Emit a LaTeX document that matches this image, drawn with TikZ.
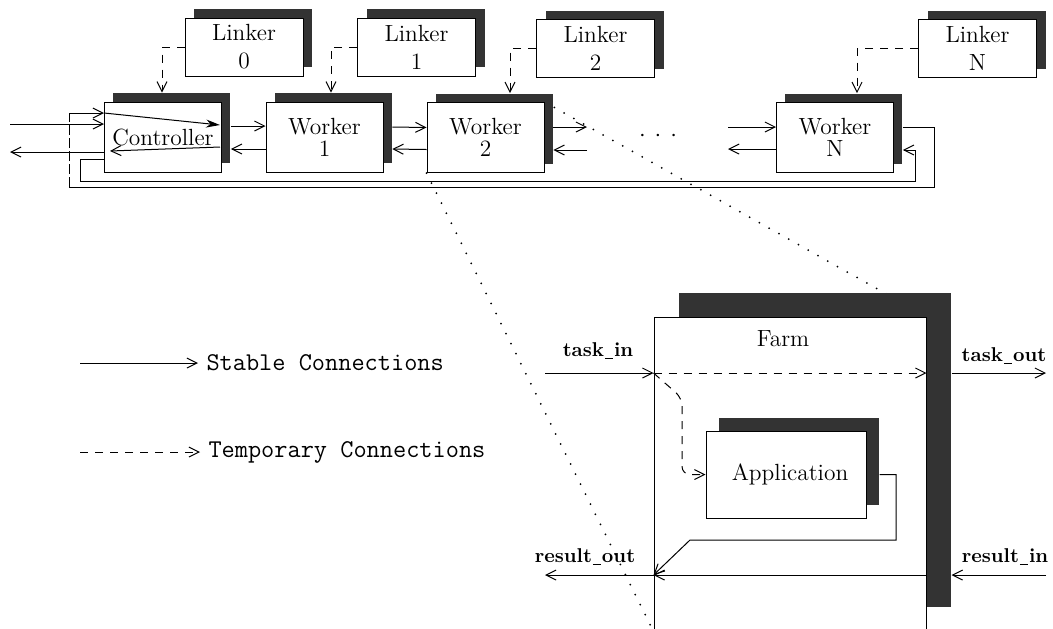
\documentclass[tikz,border=0pt]{standalone}
\usetikzlibrary{arrows.meta,shadows,backgrounds}
\newcommand{\lowbar}{\kern0.4pt\rule[-1pt]{4.2pt}{0.6pt}\kern0.4pt}
\begin{document}
\begin{tikzpicture}[x=0.5pt,y=-0.5pt,line width=0.5pt,
  >={Straight Barb[length=5pt,width=5pt]},
  font=\fontsize{11.7}{12}\selectfont,
  boxshadow/.style={drop shadow={shadow xshift=#1,shadow yshift=#1,fill=black!80,opacity=1}},
  linker/.style={draw,fill=white,minimum width=59pt,minimum height=29pt,
    align=center,inner sep=0pt,boxshadow=4.5pt},
  worker/.style={draw,fill=white,minimum width=58.5pt,minimum height=35pt,
    align=center,inner sep=0pt,boxshadow=4.4pt},
  temp/.style={dash pattern=on 4pt off 3.5pt,->},
  zoomline/.style={line width=1pt,line cap=round,dash pattern=on 0pt off 5.6pt},
  port/.style={font=\fontsize{10}{12}\selectfont\bfseries},
  legend/.style={font=\fontsize{12.8}{14}\selectfont\ttfamily,anchor=west,inner sep=1pt}]
 \useasboundingbox (0,0) rectangle (1053,628);

 % linkers and workers
 \node[linker] (lk0) at (244,47) {Linker\\[2pt]0};
 \node[linker] (lk1) at (416.5,47) {Linker\\[2pt]1};
 \node[linker] (lk2) at (595.5,48.5) {Linker\\[2pt]2};
 \node[linker] (lkN) at (977.5,48.5) {Linker\\[2pt]N};
 \node[worker] (ctrl) at (163,137) {Controller};
 \node[worker] (w1) at (324.5,137) {Worker\\[-1pt]1};
 \node[worker] (w2) at (485.5,137.5) {Worker\\[-1pt]2};
 \node[worker] (wN) at (835,137.5) {Worker\\[-1pt]N};
 \node (dots) at (658,136) {$\cdot$\hspace{4.5pt}$\cdot$\hspace{4.5pt}$\cdot$};

 \draw[temp] (lk0.west) -| ([xshift=-0.5pt,yshift=4.4pt]ctrl.north);
 \draw[temp] (lk1.west) -| ([xshift=3.25pt,yshift=4.4pt]w1.north);
 \draw[temp] (lk2.west) -| ([xshift=12.25pt,yshift=4.4pt]w2.north);
 \draw[temp] (lkN.west) -| ([xshift=11pt,yshift=4.4pt]wN.north);

 % chain of workers
 \draw[->] ([xshift=4.4pt,yshift=5.5pt]ctrl.east) -- ([yshift=5.5pt]w1.west);
 \draw[->] ([yshift=-6pt]w1.west) -- ([xshift=4.4pt,yshift=-6pt]ctrl.east);
 \draw[->] ([xshift=4.4pt,yshift=5pt]w1.east) -- ([yshift=5pt]w2.west);
 \draw[->] ([yshift=-6pt]w2.west) -- ([xshift=4.4pt,yshift=-6pt]w1.east);
 \coordinate (w2outT) at (587,127);
 \coordinate (w2outB) at (587,150);
 \coordinate (wNinT) at (728,127);
 \coordinate (wNinB) at (728,149);
 \draw[->] ([xshift=4.4pt,yshift=5.25pt]w2.east) -- (w2outT);
 \draw[->] (w2outB) -- ([xshift=4.4pt,yshift=-6.25pt]w2.east);
 \draw[->] (wNinT) -- ([yshift=5.25pt]wN.west);
 \draw[->] ([yshift=-5.75pt]wN.west) -- (wNinB);

 % controller in and out
 \coordinate (inL) at (10,124);
 \coordinate (outL) at (10,152);
 \coordinate (ctrlIn) at ([yshift=12pt]ctrl.west);
 \draw[->] (inL) -- ([yshift=6.5pt]ctrl.west);
 \draw[->] ([yshift=-7.5pt]ctrl.west) -- (outL);
 \draw[-{Stealth[length=7pt,width=4pt]}] (ctrlIn) -- ([xshift=-1pt,yshift=6pt]ctrl.east);
 \draw[->] ([xshift=-1pt,yshift=-5pt]ctrl.east) -- ([xshift=3pt,yshift=-7pt]ctrl.west);

 % loop back to the controller
 \coordinate (loopR) at (934,187);
 \coordinate (loopL) at (69,187);
 \draw ([xshift=4.4pt,yshift=5.25pt]wN.east) -| (loopR) -- (loopL);
 \draw[dash pattern=on 5pt off 1.5pt] (loopL) -- (loopL |- ctrlIn);
 \draw[->] (loopL |- ctrlIn) -- (ctrlIn);
 \coordinate (backL) at (80,181);
 \coordinate (backR) at (915,181);
 \draw[->] ([yshift=-11pt]ctrl.west) -| (backL) -- (backR)
   |- ([xshift=4.4pt,yshift=-6.25pt]wN.east);

 % the farm
 \node[draw,fill=white,minimum width=136pt,minimum height=157pt,inner sep=0pt,
   drop shadow={shadow xshift=12.5pt,shadow yshift=12pt,fill=black!80,opacity=1}]
   (farm) at (790,474) {};
 \node (farmlbl) at (783,339) {Farm};
 \node[draw,fill=white,minimum width=80pt,minimum height=43.5pt,inner sep=0pt,
   boxshadow=6.5pt] (app) at (786,474.5) {\hspace{4pt}Application};

 \coordinate (farmSh) at ([xshift=12.5pt]farm.east);
 \coordinate (appSh) at ([xshift=6.5pt]app.east);
 \coordinate (tiIn) at (545,373);
 \coordinate (toOut) at (1046,373);
 \coordinate (riIn) at (1046,575);
 \coordinate (roOut) at (545,575);
 \coordinate (bend) at (682,398);
 \coordinate (appLoop) at (896,540);
 \coordinate (appBack) at (690,540);

 \draw[->] (tiIn) -- (farm.west |- tiIn);
 \draw[temp] (farm.west |- tiIn) -- (farm.east |- tiIn);
 \draw[->] (farmSh |- tiIn) -- (toOut);
 \draw[temp,rounded corners=4pt] (farm.west |- tiIn) -- (bend) |- (app.west);
 \draw[->] (appSh) -| (appLoop) -- (appBack) -- (farm.west |- roOut);
 \draw[->] (riIn) -- (farmSh |- riIn);
 \draw[->] (farm.east |- riIn) -- (farm.west |- riIn);
 \draw[->] (farm.west |- roOut) -- (roOut);

 \node[port] (tilbl) at (598,351) {task\lowbar in};
 \node[port] (tolbl) at (1004,356) {task\lowbar out};
 \node[port] (rolbl) at (585,557) {result\lowbar out};
 \node[port] (rilbl) at (1005,557) {result\lowbar in};

 % zoom lines
 \begin{scope}[on background layer]
  \draw[zoomline] (w2.south west) -- (farm.south west);
  \draw[zoomline] (w2.north east) -- (farm.north east);
 \end{scope}

 % legend
 \node[legend] (stable) at (204,363) {Stable Connections};
 \node[legend] (tempo) at (206,452) {Temporary Connections};
 \coordinate (lgA) at (80,363);
 \coordinate (lgB) at (80,452);
 \draw[->,shorten >=3pt] (lgA) -- (stable.west);
 \draw[temp,shorten >=3pt] (lgB) -- (tempo.west);
\end{tikzpicture}
\end{document}
